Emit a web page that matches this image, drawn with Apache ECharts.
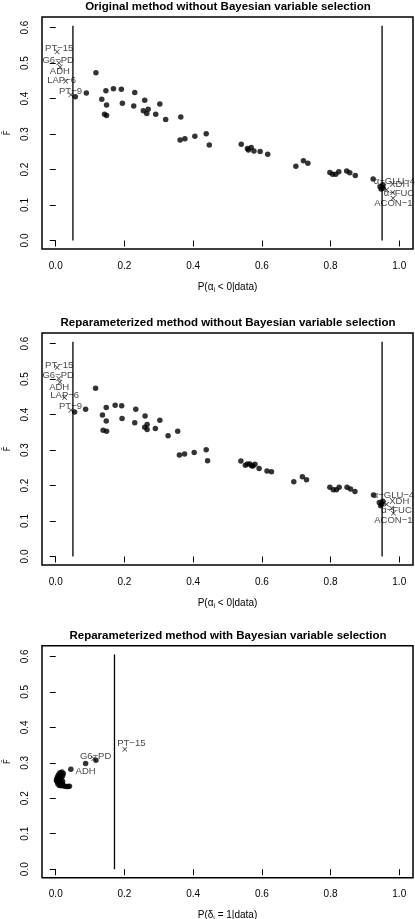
<!DOCTYPE html>
<html><head><meta charset="utf-8">
<script src="https://cdn.jsdelivr.net/npm/echarts@6/dist/echarts.min.js"></script>
<style>html,body{margin:0;padding:0;background:#fff}#c{width:415px;height:919px}</style>
</head><body><div id="c"></div>
<script>
// ---------- data ----------
const titles = [
  'Original method without Bayesian variable selection',
  'Reparameterized method without Bayesian variable selection',
  'Reparameterized method with Bayesian variable selection'
];
const xTicks = [0, 0.2, 0.4, 0.6, 0.8, 1.0];
const yTicks = [0, 0.1, 0.2, 0.3, 0.4, 0.5, 0.6];

// Panel 1: unlabeled loci
const p1X = [0.057,0.089,0.117,0.134,0.146,0.148,0.142,0.148,0.168,0.191,0.194,0.230,0.227,0.259,0.255,0.269,0.265,0.291,0.303,0.320,0.364,0.362,0.376,0.405,0.438,0.447,0.540,0.558,0.561,0.569,0.577,0.595,0.617,0.699,0.721,0.734,0.798,0.806,0.815,0.824,0.847,0.856,0.872,0.924,0.944,0.947,0.952,0.953];
const p1Y = [0.405,0.416,0.473,0.398,0.422,0.382,0.356,0.352,0.428,0.426,0.387,0.417,0.379,0.395,0.366,0.370,0.358,0.356,0.385,0.341,0.348,0.283,0.287,0.294,0.301,0.269,0.271,0.259,0.255,0.262,0.252,0.251,0.243,0.209,0.225,0.218,0.192,0.187,0.187,0.194,0.196,0.191,0.183,0.173,0.152,0.145,0.157,0.147];
// Panel 1: labeled (outlier) loci
const p1LabNames = ['PT−15','G6−PD','ADH','LAP−6','PT−9','α−GLU−4','XDH','α−FUC','ACON−1'];
const p1LabX = [0.004,0.009,0.013,0.029,0.044,0.955,0.963,0.981,0.982];
const p1LabY = [0.532,0.501,0.489,0.449,0.411,0.152,0.143,0.135,0.119];
const p1TextX = [0.010,0.007,0.012,0.017,0.043,0.986,1.000,0.999,0.983];
const p1TextY = [0.541,0.508,0.477,0.452,0.420,0.168,0.157,0.132,0.105];

// Panel 2
const p2X = [0.055,0.087,0.116,0.136,0.147,0.147,0.138,0.148,0.173,0.192,0.193,0.233,0.230,0.260,0.266,0.259,0.266,0.290,0.303,0.327,0.355,0.360,0.375,0.403,0.438,0.442,0.539,0.552,0.558,0.565,0.570,0.574,0.580,0.592,0.615,0.628,0.693,0.718,0.730,0.798,0.808,0.817,0.825,0.848,0.858,0.871,0.925,0.942,0.949,0.946,0.952];
const p2Y = [0.407,0.415,0.474,0.399,0.420,0.382,0.356,0.353,0.426,0.425,0.389,0.415,0.377,0.396,0.372,0.364,0.358,0.361,0.384,0.340,0.353,0.286,0.289,0.293,0.301,0.270,0.269,0.257,0.261,0.261,0.256,0.255,0.260,0.248,0.241,0.239,0.211,0.225,0.216,0.195,0.188,0.188,0.195,0.195,0.190,0.183,0.173,0.152,0.148,0.143,0.156];
const p2LabNames = ['PT−15','G6−PD','ADH','LAP−6','PT−9','α−GLU−4','XDH','α−FUC','ACON−1'];
const p2LabX = [0.004,0.009,0.012,0.026,0.044,0.955,0.963,0.978,0.983];
const p2LabY = [0.533,0.502,0.491,0.448,0.412,0.150,0.147,0.136,0.122];
const p2TextX = [0.010,0.007,0.010,0.026,0.043,0.983,1.000,0.992,0.983];
const p2TextY = [0.539,0.511,0.478,0.455,0.422,0.171,0.156,0.131,0.103];

// Panel 3
const p3X = [0.012,0.018,0.022,0.008,0.014,0.020,0.005,0.010,0.016,0.003,0.008,0.013,0.004,0.009,0.015,0.006,0.012,0.018,0.010,0.016,0.022,0.026,0.031,0.036,0.040,0.002,0.007,0.011,0.017,0.020,0.019,0.087,0.044,0.117];
const p3Y = [0.272,0.274,0.270,0.266,0.265,0.263,0.260,0.258,0.257,0.254,0.252,0.250,0.247,0.245,0.244,0.241,0.240,0.238,0.236,0.235,0.236,0.234,0.233,0.233,0.234,0.250,0.256,0.262,0.268,0.248,0.242,0.298,0.282,0.307];
const p3LabNames = ['PT−15','G6−PD'];
const p3LabX = [0.201,0.111];
const p3LabY = [0.338,0.312];
const p3TextNames = ['PT−15','G6−PD','ADH'];
const p3TextX = [0.220,0.116,0.087];
const p3TextY = [0.356,0.317,0.277];

// threshold lines
const thresholds = [[0.05,0.95],[0.05,0.95],[0.171]];
const lineTop = 0.605;

const xNames = ['α|< 0','α|< 0','δ|= 1'];

// ---------- chart ----------
const FONT = '"Liberation Sans", Arial, Helvetica, sans-serif';
const tops = [17, 333, 645.7];
const panels = [
  {x:p1X,y:p1Y,lx:p1LabX,ly:p1LabY,tn:p1LabNames,tx:p1TextX,ty:p1TextY},
  {x:p2X,y:p2Y,lx:p2LabX,ly:p2LabY,tn:p2LabNames,tx:p2TextX,ty:p2TextY},
  {x:p3X,y:p3Y,lx:p3LabX,ly:p3LabY,tn:p3TextNames,tx:p3TextX,ty:p3TextY}
];
const XSYM = 'path://M0,1L1,0L5,4L9,0L10,1L6,5L10,9L9,10L5,6L1,10L0,9L4,5Z';

const grid=[], xAxis=[], yAxis=[], series=[], title=[];
panels.forEach((p,i)=>{
  grid.push({left:42, top:tops[i], width:371, height:232, show:true, borderColor:'#000', borderWidth:1.5,
    backgroundColor:'transparent', containLabel:false, outerBoundsMode:'none'});
  title.push({text:titles[i], left:228, top:tops[i]-16, padding:0, textAlign:'center',
    textStyle:{fontFamily:FONT, fontSize:11.5, fontWeight:'bold', color:'#000'}});
  const parts = xNames[i].split('|');
  xAxis.push({type:'value', gridIndex:i, min:-0.04, max:1.04,
    splitLine:{show:false}, axisLine:{show:false},
    axisTick:{show:true, inside:false, length:6, customValues:xTicks, lineStyle:{color:'#000', width:1}},
    axisLabel:{customValues:xTicks, formatter:v=>v.toFixed(1), fontFamily:FONT, fontSize:10, color:'#000', margin:12},
    name:'{t|P(' + parts[0] + '}{s|i}{t| ' + parts[1] + '|data)}',
    nameLocation:'middle', nameGap:31,
    nameTextStyle:{rich:{
      t:{fontFamily:FONT, fontSize:10, color:'#000', lineHeight:14},
      s:{fontFamily:FONT, fontSize:7, color:'#000', lineHeight:14, padding:[6,0,0,0]}
    }}
  });
  yAxis.push({type:'value', gridIndex:i, min:-0.024, max:0.63,
    splitLine:{show:false}, axisLine:{show:false},
    axisTick:{show:true, inside:false, length:6, customValues:yTicks, lineStyle:{color:'#000', width:1}},
    axisLabel:{customValues:yTicks, formatter:v=>v.toFixed(1), rotate:90, fontFamily:FONT, fontSize:10, color:'#000', margin:12},
    name:'F\u0302', nameLocation:'middle', nameGap:25, nameRotate:90,
    nameTextStyle:{fontFamily:'"DejaVu Sans", sans-serif', fontSize:9, color:'#000'}
  });
  series.push({type:'scatter', xAxisIndex:i, yAxisIndex:i, symbol:'circle', symbolSize:5.5,
    itemStyle:{color:'#000'}, silent:true, data:p.x.map((v,k)=>[v,p.y[k]])});
  series.push({type:'scatter', xAxisIndex:i, yAxisIndex:i, symbol:XSYM, symbolSize:5,
    itemStyle:{color:'#000'}, silent:true, data:p.lx.map((v,k)=>[v,p.ly[k]])});
  series.push({type:'scatter', xAxisIndex:i, yAxisIndex:i, symbolSize:0.01, silent:true,
    label:{show:true, position:'inside', formatter:d=>d.name, fontFamily:FONT, fontSize:9.5, color:'#111'},
    data:p.tx.map((v,k)=>({name:p.tn[k], value:[v,p.ty[k]]}))});
  thresholds[i].forEach(t=>{
    series.push({type:'line', xAxisIndex:i, yAxisIndex:i, symbol:'none', silent:true,
      lineStyle:{color:'#000', width:1.3}, data:[[t,0],[t,lineTop]]});
  });
});

const chart = echarts.init(document.getElementById('c'), null, {renderer:'canvas'});
chart.setOption({animation:false, backgroundColor:'#fff', title, grid, xAxis, yAxis, series});
</script></body></html>
